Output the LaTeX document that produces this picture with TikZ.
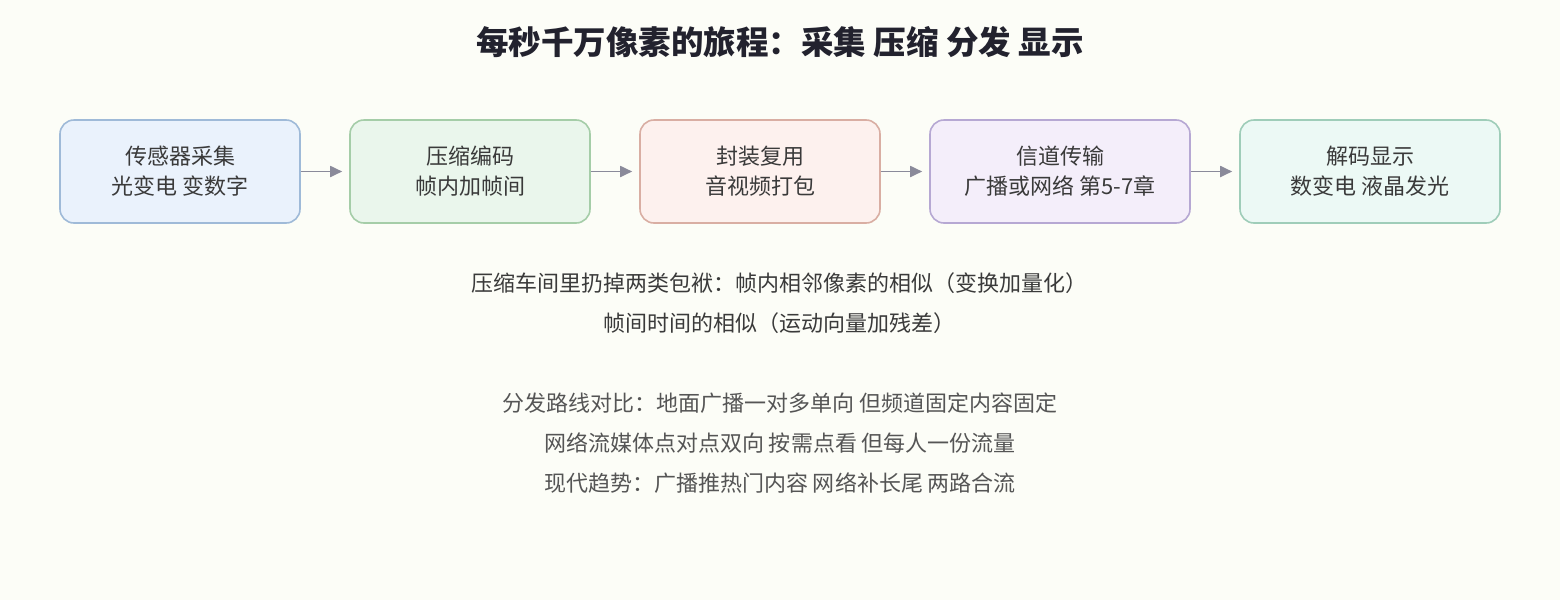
\documentclass[tikz,border=0pt]{standalone}
\usepackage{fontspec}
\setmainfont{Noto Sans CJK SC}
\usetikzlibrary{arrows.meta}
\definecolor{bg}{HTML}{FCFDF7}
\definecolor{fA}{HTML}{EAF2FC}\definecolor{dA}{HTML}{9FBAD8}
\definecolor{fB}{HTML}{EAF6EC}\definecolor{dB}{HTML}{A5CDA8}
\definecolor{fC}{HTML}{FDF1EE}\definecolor{dC}{HTML}{D9AEA3}
\definecolor{fD}{HTML}{F4EEFA}\definecolor{dD}{HTML}{B6A8D3}
\definecolor{fE}{HTML}{ECF9F5}\definecolor{dE}{HTML}{9FCDB9}
\definecolor{arr}{HTML}{8A8A9A}
\definecolor{titlec}{HTML}{22222E}
\definecolor{txtA}{HTML}{3A3A3A}
\definecolor{txtB}{HTML}{555555}
\begin{document}
\begin{tikzpicture}[x=1pt,y=-1pt,
  stagebox/.style={draw=#1, line width=1.6pt, rounded corners=14pt, minimum height=103pt,
    align=center, font=\fontsize{22}{30}\selectfont, text=txtA, inner sep=0pt},
  flow/.style={draw=arr, line width=1.8pt, -{Triangle[length=12pt,width=11pt]}, shorten >=7pt},
  bodytxt/.style={font=\fontsize{22}{30}\selectfont, anchor=center}]
\fill[bg] (0,0) rectangle (1560,600);
\useasboundingbox (0,0) rectangle (1560,600);
\node[font=\fontsize{32.5}{36}\selectfont\bfseries, text=titlec] (title) at (780,42) {每秒千万像素的旅程：采集 压缩 分发 显示};
\node[stagebox=dA, fill=fA, minimum width=240pt] (s1) at (180,171.5) {传感器采集\\光变电 变数字};
\node[stagebox=dB, fill=fB, minimum width=240pt] (s2) at (470,171.5) {压缩编码\\帧内加帧间};
\node[stagebox=dC, fill=fC, minimum width=240pt] (s3) at (760,171.5) {封装复用\\音视频打包};
\node[stagebox=dD, fill=fD, minimum width=260pt] (s4) at (1060,171.5) {信道传输\\广播或网络 第5-7章};
\node[stagebox=dE, fill=fE, minimum width=260pt] (s5) at (1370,171.5) {解码显示\\数变电 液晶发光};
\draw[flow] (s1) -- (s2);
\draw[flow] (s2) -- (s3);
\draw[flow] (s3) -- (s4);
\draw[flow] (s4) -- (s5);
\node[bodytxt, text=txtA] (l1) at (779,283) {压缩车间里扔掉两类包袱：帧内相邻像素的相似（变换加量化）};
\node[bodytxt, text=txtA] (l2) at (779,323) {帧间时间的相似（运动向量加残差）};
\node[bodytxt, text=txtB] (l3) at (780,403) {分发路线对比：地面广播一对多单向 但频道固定内容固定};
\node[bodytxt, text=txtB] (l4) at (780,443) {网络流媒体点对点双向 按需点看 但每人一份流量};
\node[bodytxt, text=txtB] (l5) at (780,483) {现代趋势：广播推热门内容 网络补长尾 两路合流};
\end{tikzpicture}
\end{document}
